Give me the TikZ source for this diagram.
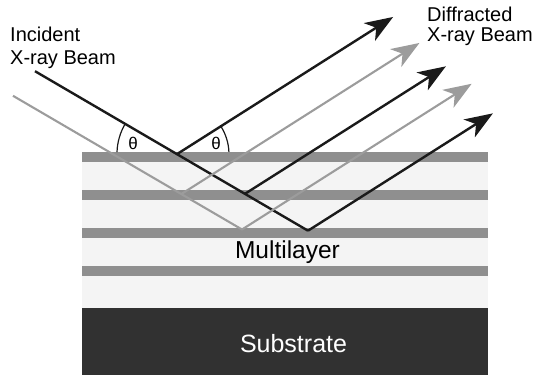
\documentclass[tikz,border=0pt]{standalone}
\usepackage{fontspec}
\setmainfont{Liberation Sans}
\usetikzlibrary{arrows.meta,calc}
\definecolor{bandgray}{HTML}{8F8F8F}
\definecolor{fillgray}{HTML}{F4F4F4}
\definecolor{subgray}{HTML}{313131}
\definecolor{raygray}{HTML}{9C9C9C}
\definecolor{rayblack}{HTML}{1A1A1A}

\begin{document}
\begin{tikzpicture}[x=1pt,y=1pt,
    layer/.style={fill=bandgray, draw=none},
    raydark/.style={draw=rayblack, line width=2.4pt},
    raylight/.style={draw=raygray, line width=2.1pt},
    outhead/.style={-{Stealth[length=28pt,width=21pt,inset=8pt]}},
    anglearc/.style={draw=rayblack, line width=1.2pt},
    lbl/.style={inner sep=0pt, align=left, font=\fontsize{20}{23}\selectfont},
  ]
  \useasboundingbox (0,0) rectangle (534,375);
  % The stack
  \fill[fillgray] (82,67) rectangle (488,223);
  \foreach \yb in {213,175,137,99}
    \fill[layer] (82,\yb) rectangle (488,\yb+10);
  \fill[subgray] (82,0) rectangle (488,67);

  % Incident beams and reflection points
  \coordinate (inB) at (35,303.8);
  \coordinate (v3) at (308,144.3);
  \coordinate (v1) at ($(inB)!0.52!(v3)$);
  \coordinate (v2) at ($(inB)!0.769!(v3)$);
  \coordinate (inG) at (13,279.2);
  \coordinate (g2) at (242,145.5);
  \coordinate (g1) at ($(inG)!0.735!(g2)$);
  \draw[raylight] (inG) -- (g2);
  \draw[raydark] (inB) -- (v3);

  % Diffracted beams
  \coordinate (o1) at ($(v1)+(32.4:256)$);
  \coordinate (o2) at ($(g1)+(32.4:282)$);
  \coordinate (o3) at ($(v2)+(32.4:238)$);
  \coordinate (o4) at ($(g2)+(32.4:272)$);
  \coordinate (o5) at ($(v3)+(32.4:219)$);
  \draw[raylight, outhead, fill=raygray] (g1) -- (o2);
  \draw[raylight, outhead, fill=raygray] (g2) -- (o4);
  \draw[raydark, outhead, fill=rayblack] (v1) -- (o1);
  \draw[raydark, outhead, fill=rayblack] (v2) -- (o3);
  \draw[raydark, outhead, fill=rayblack] (v3) -- (o5);

  % Angles
  \draw[anglearc] ($(v1)+(178:60)$) arc[start angle=178, end angle=149.7, radius=60];
  \draw[anglearc] ($(v1)+(2.5:52)$) arc[start angle=2.5, end angle=32.4, radius=52];
  \node[font=\fontsize{17}{17}\selectfont, inner sep=0pt] (thetaL) at (133,232) {θ};
  \node[font=\fontsize{17}{17}\selectfont, inner sep=0pt] (thetaR) at (216,232) {θ};

  % Labels
  \node[lbl, anchor=north west] (incident) at (10,348) {Incident\\X-ray Beam};
  \node[lbl, anchor=north west, font=\fontsize{20}{20}\selectfont] (diffracted) at (427,368) {Diffracted\\X-ray Beam};
  \node[inner sep=0pt, anchor=base, font=\fontsize{24.5}{24.5}\selectfont] (multilayer) at (287.5,117) {Multilayer};
  \node[inner sep=0pt, anchor=base, text=white, font=\fontsize{25}{25}\selectfont] (substrate) at (293.5,23) {Substrate};
\end{tikzpicture}
\end{document}
